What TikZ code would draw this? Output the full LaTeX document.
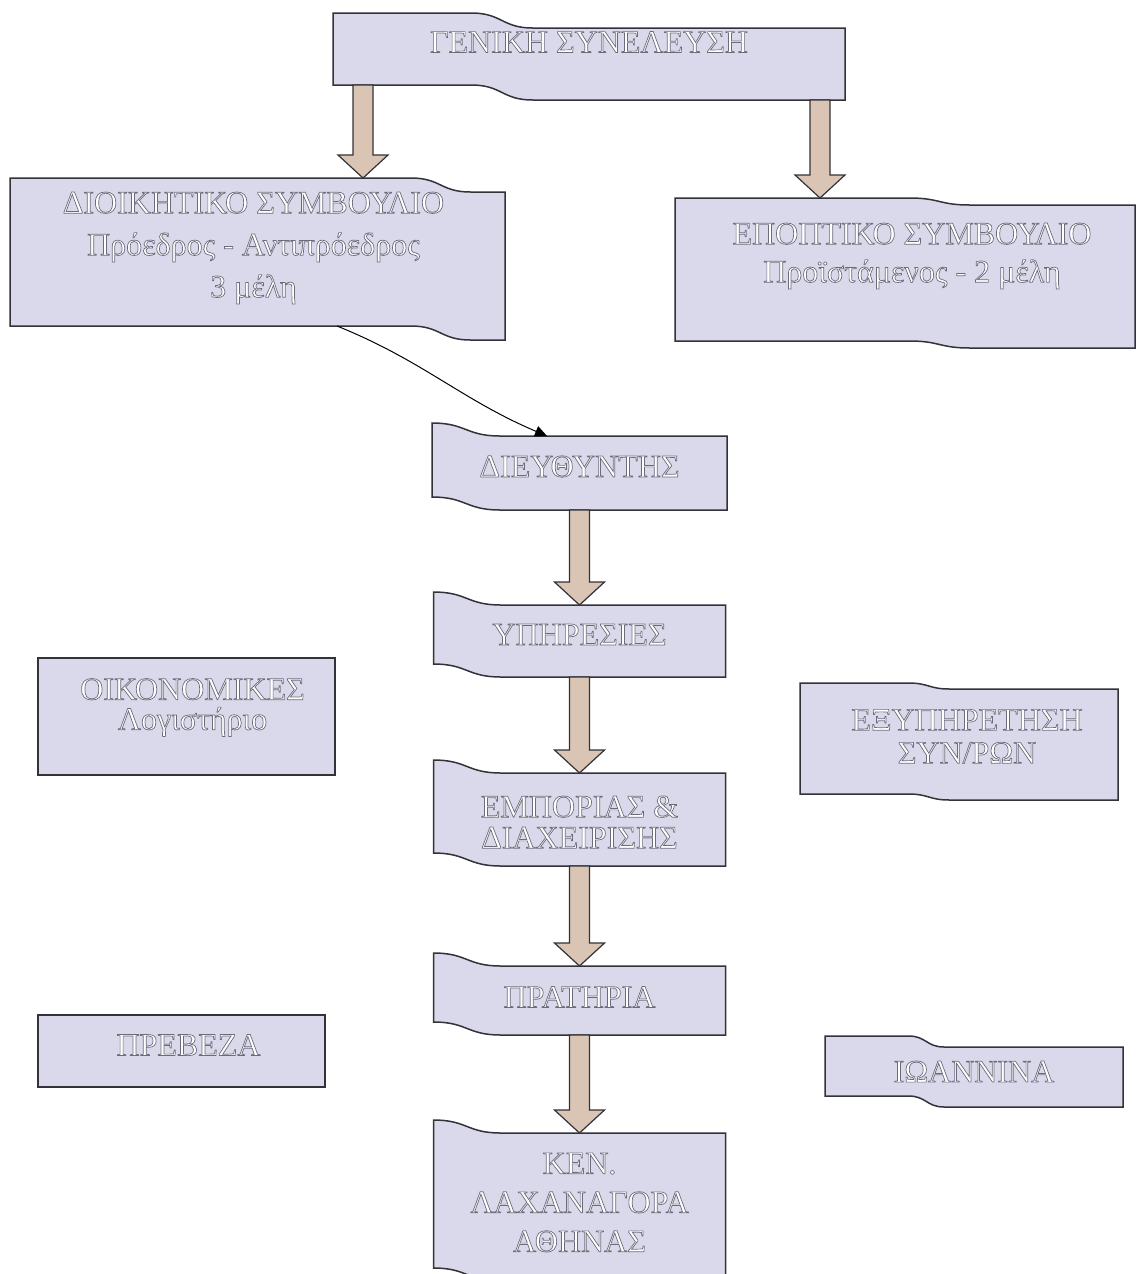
\documentclass[tikz,border=0pt]{standalone}
\usepackage{fontspec}
\setmainfont{Liberation Serif}
\usepackage{xcolor}
\usetikzlibrary{arrows.meta,backgrounds,calc}

\definecolor{panelfill}{RGB}{217,217,235}
\definecolor{panelline}{RGB}{50,50,56}
\definecolor{shaftfill}{RGB}{218,197,180}

\newcommand{\wave}[4]{%
  \draw[panel] let \p1=(#1.north west), \p2=(#1.south east),
    \n1={\x1+#3*(\x2-\x1)}, \n2={\x1+#4*(\x2-\x1)}, \n3={(\x1+(#3+#4)/2*(\x2-\x1))} in
    (\x1,\y1) -- ({\n1*1pt},\y1) .. controls ({\n3*1pt},\y1) and ({\n3*1pt},{\y1-#2}) .. ({\n2*1pt},{\y1-#2})
    -- (\x2,{\y1-#2}) -- (\x2,\y2) -- ({\n2*1pt},\y2) .. controls ({\n3*1pt},\y2) and ({\n3*1pt},{\y2+#2}) .. ({\n1*1pt},{\y2+#2})
    -- (\x1,{\y2+#2}) -- cycle;}
\newcommand{\flowarrow}[2]{%
  \draw[bigarrow] let \p1=(#1), \p2=(#2) in
    (\x1-5pt,\y1) -- (\x1-5pt,\y2+11.5pt) -- (\x1-12.5pt,\y2+11.5pt) -- (\x1,\y2)
    -- (\x1+12.5pt,\y2+11.5pt) -- (\x1+5pt,\y2+11.5pt) -- (\x1+5pt,\y1) -- cycle;}

\begin{document}
\begin{tikzpicture}[x=0.5pt, y=-0.5pt,
  box/.style 2 args={minimum width=#1, minimum height=#2, inner sep=0pt, outer sep=0pt},
  panel/.style={fill=panelfill, draw=panelline, line width=0.75pt},
  bigarrow/.style={fill=shaftfill, draw=panelline, line width=0.6pt},
  lbl/.style={align=center, inner sep=0pt, font=\fontsize{16}{#1}\selectfont,
    execute at begin node={\color{white}\special{pdf:literal direct 2 Tr 0.35 w 0.42 0.42 0.48 RG}},
    execute at end node={\special{pdf:literal direct 0 Tr}}},
  lbl/.default=18pt]
\useasboundingbox (0,0) rectangle (1136,1274);
\node[box={256pt}{43.5pt}, label={[lbl,yshift=7.25pt]center:{ΓΕΝΙΚΗ ΣΥΝΕΛΕΥΣΗ}}] (gen) at (589,56.5) {};
\node[box={247.5pt}{81pt}, label={[lbl=21pt,xshift=-2pt,yshift=5.5pt]center:{ΔΙΟΙΚΗΤΙΚΟ ΣΥΜΒΟΥΛΙΟ\\Πρόεδρος - Αντιπρόεδρος\\3 μέλη}}] (dsb) at (257.5,259) {};
\node[box={230pt}{75pt}, label={[lbl=19pt,xshift=3.5pt,yshift=8.5pt]center:{ΕΠΟΠΤΙΚΟ ΣΥΜΒΟΥΛΙΟ\\Προϊστάμενος - 2 μέλη}}] (epo) at (905,273) {};
\node[box={147.5pt}{43.5pt}, label={[lbl]center:{ΔΙΕΥΘΥΝΤΗΣ}}] (dir) at (579.5,466.5) {};
\node[box={146pt}{42.5pt}, label={[lbl]center:{ΥΠΗΡΕΣΙΕΣ}}] (ypi) at (579.5,634.5) {};
\node[box={146pt}{53pt}, label={[lbl=15.5pt,yshift=-4.5pt]center:{ΕΜΠΟΡΙΑΣ \&\\ΔΙΑΧΕΙΡΙΣΗΣ}}] (emp) at (579.5,813) {};
\node[box={146pt}{41pt}, label={[lbl,yshift=-1.5pt]center:{ΠΡΑΤΗΡΙΑ}}] (pra) at (579.5,994) {};
\node[box={146pt}{80.5pt}, label={[lbl=19.5pt,yshift=-1pt]center:{ΚΕΝ.\\ΛΑΧΑΝΑΓΟΡΑ\\ΑΘΗΝΑΣ}}] (ken) at (579.5,1200.5) {};
\node[box={148.5pt}{58.5pt}, label={[lbl=15pt,xshift=3pt,yshift=4.5pt]center:{ΟΙΚΟΝΟΜΙΚΕΣ\\Λογιστήριο}}] (oik) at (186.5,716.5) {};
\node[box={159pt}{58.5pt}, label={[lbl=16.5pt,xshift=4pt,yshift=2.5pt]center:{ΕΞΥΠΗΡΕΤΗΣΗ\\ΣΥΝ/ΡΩΝ}}] (exy) at (959,741.5) {};
\node[box={143.5pt}{36pt}, label={[lbl,xshift=3.5pt,yshift=3pt]center:{ΠΡΕΒΕΖΑ}}] (pre) at (181.5,1051) {};
\node[box={149pt}{35.5pt}, label={[lbl]center:{ΙΩΑΝΝΙΝΑ}}] (ioa) at (974,1071.5) {};
\begin{scope}[on background layer]
\wave{gen}{7.5pt}{0.27}{0.39}
\wave{dsb}{7pt}{0.81}{0.93}
\wave{epo}{3.5pt}{0.51}{0.64}
\wave{dir}{6.5pt}{0}{0.23}
\wave{ypi}{6.5pt}{0}{0.23}
\wave{emp}{6.5pt}{0}{0.23}
\wave{pra}{6.5pt}{0}{0.23}
\wave{ken}{6.5pt}{0}{0.23}
\wave{oik}{0pt}{0.4}{0.6}
\wave{exy}{3pt}{0.34}{0.47}
\wave{pre}{0pt}{0.4}{0.6}
\wave{ioa}{5.5pt}{0.28}{0.40}
\end{scope}
\flowarrow{[xshift=15pt,yshift=7.5pt]gen.south west}{dsb.north}
\flowarrow{[xshift=-12.5pt]gen.south east}{epo.north}
\flowarrow{dir.south}{[yshift=-6.5pt]ypi.north}
\flowarrow{ypi.south}{[yshift=-6.5pt]emp.north}
\flowarrow{emp.south}{[yshift=-6.5pt]pra.north}
\flowarrow{pra.south}{[yshift=-6.5pt]ken.north}
\draw[-{Triangle[length=6pt,width=5.5pt]}, line width=0.5pt] ([xshift=163.5pt,yshift=7pt]dsb.south west) to[out=-22,in=157] ([xshift=-16.25pt,yshift=-6.5pt]dir.north);
\end{tikzpicture}
\end{document}
